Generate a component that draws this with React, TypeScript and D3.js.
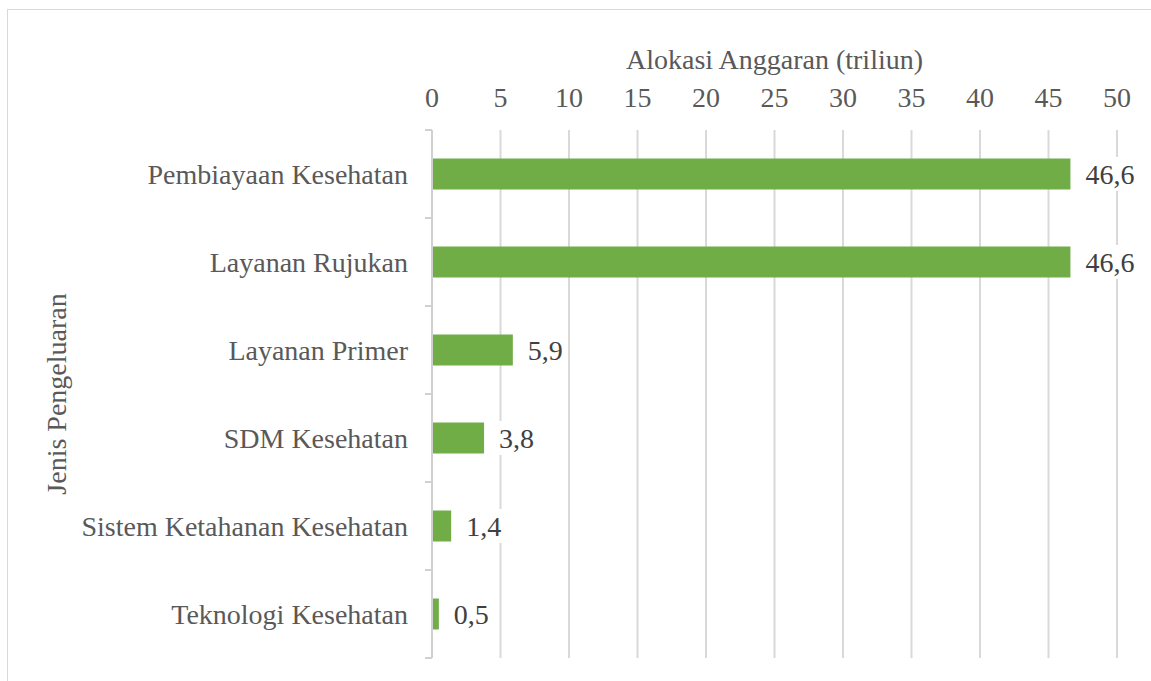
import React from "react";
import * as d3 from "d3";

const categories = [
  "Pembiayaan Kesehatan",
  "Layanan Rujukan",
  "Layanan Primer",
  "SDM Kesehatan",
  "Sistem Ketahanan Kesehatan",
  "Teknologi Kesehatan",
];
const values = [46.6, 46.6, 5.9, 3.8, 1.4, 0.5];
const valueLabels = ["46,6", "46,6", "5,9", "3,8", "1,4", "0,5"];
const xTicks = [0, 5, 10, 15, 20, 25, 30, 35, 40, 45, 50];
const xTitle = "Alokasi Anggaran (triliun)";
const yTitle = "Jenis Pengeluaran";

const W = 1151;
const H = 681;
const TS: React.CSSProperties = { fontFamily: '"Liberation Serif", "Times New Roman", serif' };
const FS = 28;

export default function App() {
  const x = d3.scaleLinear().domain([0, 50]).range([432, 1117]);
  const y = d3
    .scaleBand<string>()
    .domain(categories)
    .range([130, 658])
    .paddingInner(0.648)
    .paddingOuter(0.324);
  const step = y.step();
  const tickYs = d3.range(categories.length + 1).map((i) => 130 + i * step);

  return (
    <svg width={W} height={H} style={{ position: "absolute", left: 0, top: 0, background: "#fff" }}>
      <rect x={0} y={0} width={W} height={H} fill="#fff" />
      <rect x={7.5} y={9.5} width={W + 20} height={H + 20} fill="none" stroke="#D9D9D9" strokeWidth={1} />

      {xTicks.filter((t) => t > 0).map((t) => (
        <line key={t} x1={x(t)} x2={x(t)} y1={130} y2={658} stroke="#D9D9D9" strokeWidth={2} />
      ))}

      <line x1={432} x2={432} y1={130} y2={658} stroke="#D0D0D0" strokeWidth={2} />
      {tickYs.map((ty, i) => (
        <line key={i} x1={425} x2={432} y1={ty} y2={ty} stroke="#D0D0D0" strokeWidth={2} />
      ))}

      {categories.map((c, i) => (
        <rect
          key={c}
          x={x(0) + 1}
          y={y(c)!}
          width={x(values[i]) - x(0) - 1}
          height={y.bandwidth()}
          fill="#70AD47"
        />
      ))}

      {categories.map((c, i) => {
        const lx = x(values[i]) + 15;
        const cy = y(c)! + y.bandwidth() / 2;
        return (
          <g key={c}>
            <rect x={lx - 2} y={cy - 17} width={valueLabels[i].length * 12.5 + 4} height={34} fill="#fff" />
            <text x={lx} y={cy + 9.5} fontSize={FS} fill="#404040" style={TS}>
              {valueLabels[i]}
            </text>
          </g>
        );
      })}

      {categories.map((c) => (
        <text
          key={c}
          x={408}
          y={y(c)! + y.bandwidth() / 2 + 9.5}
          fontSize={FS}
          fill="#595959"
          textAnchor="end"
          style={TS}
        >
          {c}
        </text>
      ))}

      {xTicks.map((t) => (
        <text key={t} x={x(t)} y={107} fontSize={FS} fill="#595959" textAnchor="middle" style={TS}>
          {t}
        </text>
      ))}

      <text x={(432 + 1117) / 2} y={69} fontSize={FS} fill="#595959" textAnchor="middle" style={TS}>
        {xTitle}
      </text>
      <text
        transform={`translate(66, 394) rotate(-90)`}
        fontSize={FS}
        fill="#595959"
        textAnchor="middle"
        style={TS}
      >
        {yTitle}
      </text>
    </svg>
  );
}
